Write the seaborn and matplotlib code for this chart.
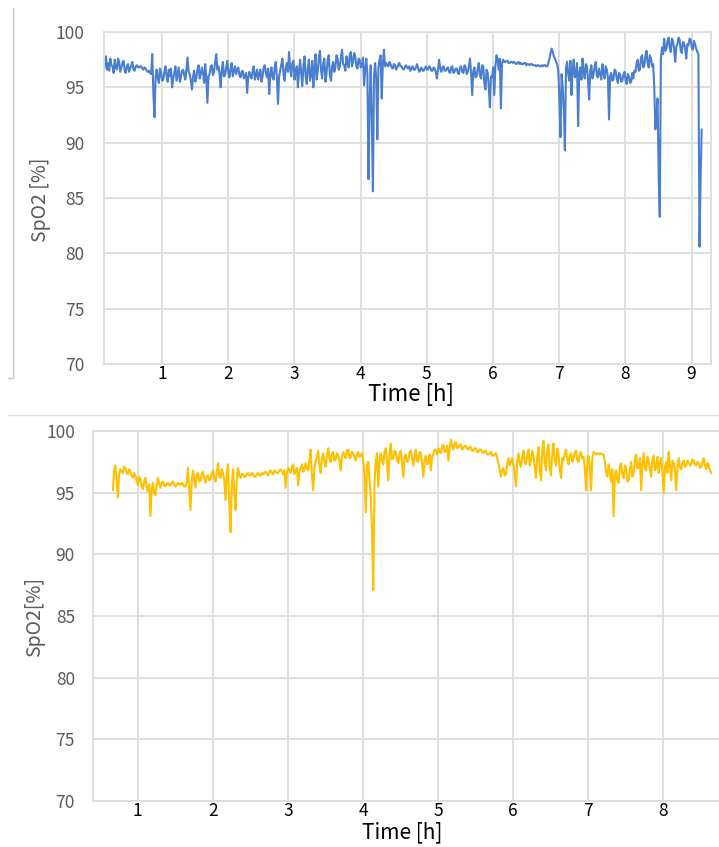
import numpy as np
import pandas as pd
import matplotlib
matplotlib.use("Agg")
import matplotlib.pyplot as plt
import seaborn as sns
from matplotlib.lines import Line2D

# ---- Night 1: SpO2 [%] sampled every minute, first sample at 0.12 h ----
night1_start_h = 0.12
night1_spo2 = [
    96.4, 97.1, 97.8, 96.6, 97.2, 96.5, 97.6, 97.0, 96.9, 96.3, 97.5, 96.8, 96.6, 97.6, 97.3,
    96.4, 96.8, 97.2, 97.4, 96.5, 96.3, 96.9, 97.1, 96.4, 96.7, 97.0, 97.3, 96.6, 96.5, 96.9,
    97.0, 96.8, 96.8, 96.9, 96.9, 96.7, 96.6, 96.8, 96.7, 96.5, 96.4, 96.5, 96.3, 96.2, 98.0,
    94.5, 92.3, 95.9, 96.6, 95.8, 95.4, 96.7, 96.3, 95.6, 95.7, 96.4, 96.9, 96.0, 95.5, 96.6,
    96.0, 96.7, 95.0, 95.8, 96.3, 96.9, 95.6, 96.2, 96.8, 95.5, 95.9, 96.5, 96.6, 96.1, 95.7,
    96.7, 97.7, 96.4, 96.2, 95.6, 94.8, 96.0, 96.5, 95.5, 95.9, 96.6, 97.0, 95.8, 96.2, 96.8,
    96.3, 95.4, 97.1, 95.9, 93.6, 96.0, 96.2, 96.9, 97.0, 96.1, 96.4, 97.3, 98.0, 96.6, 96.9,
    96.2, 95.0, 96.6, 97.3, 96.0, 96.1, 96.8, 97.4, 96.3, 95.9, 96.7, 97.2, 96.0, 96.5, 96.9,
    96.2, 96.6, 96.8, 96.1, 95.9, 96.4, 96.5, 95.8, 96.0, 96.3, 94.5, 95.9, 96.4, 96.0, 95.8,
    96.5, 96.9, 95.7, 96.1, 96.6, 95.7, 96.2, 96.6, 95.5, 96.0, 96.8, 97.0, 96.3, 95.9, 96.7,
    94.4, 96.2, 96.8, 95.9, 95.7, 96.9, 97.3, 95.8, 93.5, 96.0, 96.5, 97.1, 97.6, 96.2, 95.6,
    96.8, 97.2, 96.4, 98.2, 96.7, 96.0, 97.2, 97.4, 95.7, 96.5, 96.9, 95.0, 96.4, 97.5, 96.3,
    95.1, 96.9, 97.8, 96.0, 95.3, 96.8, 97.5, 95.6, 96.2, 97.4, 95.0, 96.6, 98.0, 95.7, 96.4,
    97.7, 98.3, 96.5, 95.8, 97.2, 97.6, 95.5, 96.3, 97.5, 97.9, 96.1, 95.6, 96.9, 97.3, 96.4,
    96.8, 97.9, 97.6, 96.6, 96.9, 97.7, 98.4, 97.1, 97.0, 96.5, 97.8, 97.2, 96.8, 97.9, 98.2,
    96.9, 97.3, 98.1, 97.8, 96.9, 96.7, 97.6, 97.5, 96.8, 97.0, 97.7, 95.2, 96.6, 97.6, 96.2,
    86.7, 93.5, 97.0, 92.0, 85.6, 96.1, 97.2, 95.8, 90.3, 96.8, 97.5, 97.9, 94.0, 97.1, 98.4,
    96.9, 97.2, 97.0, 96.9, 97.3, 97.1, 96.8, 96.7, 97.1, 97.0, 96.6, 96.8, 97.0, 97.2, 96.9,
    96.9, 96.7, 96.6, 96.8, 97.0, 96.8, 96.7, 96.9, 96.5, 96.7, 96.9, 96.6, 96.6, 96.8, 97.1,
    96.7, 96.4, 96.6, 96.8, 96.5, 96.5, 96.7, 96.9, 96.6, 96.6, 96.9, 96.8, 96.5, 96.5, 96.8,
    96.7, 96.4, 95.8, 96.6, 97.5, 96.7, 96.4, 96.8, 96.9, 96.5, 96.5, 96.7, 96.8, 96.4, 96.3,
    96.8, 96.9, 96.3, 96.4, 96.7, 96.7, 96.3, 96.2, 96.8, 96.9, 96.4, 96.3, 97.0, 96.8, 96.2,
    96.4, 96.9, 97.6, 96.3, 94.3, 96.5, 96.8, 95.9, 96.0, 96.7, 97.2, 96.1, 95.8, 97.0, 96.9,
    95.4, 94.8, 96.6, 96.3, 95.1, 93.2, 96.0, 95.9, 96.8, 94.3, 96.9, 97.9, 97.5, 96.6, 97.6,
    93.1, 97.2, 97.5, 97.3, 97.3, 97.4, 97.4, 97.2, 97.2, 97.3, 97.3, 97.2, 97.3, 97.2, 97.1,
    97.2, 97.3, 97.1, 97.2, 97.1, 97.1, 97.2, 97.2, 97.0, 97.1, 97.1, 97.0, 97.1, 97.1, 97.0,
    97.0, 97.0, 96.9, 97.0, 97.0, 96.9, 96.9, 97.0, 96.9, 97.0, 97.0, 96.9, 96.9, 97.2, 97.6,
    98.1, 98.5, 98.2, 97.8, 97.6, 97.3, 97.1, 96.5, 94.0, 90.5, 96.2, 95.0, 93.0, 89.3, 96.8,
    97.3, 96.2, 95.6, 97.4, 94.3, 96.6, 97.5, 95.9, 96.1, 97.2, 91.5, 96.3, 96.8, 95.7, 97.6,
    96.4, 95.8, 97.1, 96.9, 95.6, 93.9, 96.5, 97.0, 95.8, 96.2, 96.9, 97.3, 96.0, 95.9, 96.7,
    96.2, 95.7, 97.1, 96.3, 95.8, 96.9, 96.6, 95.9, 92.1, 96.0, 96.3, 95.6, 95.7, 96.6, 96.5,
    95.8, 95.4, 96.3, 96.2, 95.5, 95.6, 96.1, 96.4, 95.7, 95.3, 96.2, 96.0, 95.4, 95.5, 96.3,
    95.8, 96.5, 96.4, 97.2, 97.5, 96.5, 96.6, 97.7, 97.9, 96.8, 97.0, 97.8, 98.3, 97.2, 96.8,
    97.9, 97.6, 96.9, 97.1, 95.0, 91.2, 92.5, 94.0, 87.0, 83.3, 97.5, 98.6, 98.0, 99.4, 98.3,
    98.5, 99.2, 99.5, 98.6, 98.2, 99.4, 99.2, 98.4, 97.3, 98.7, 98.9, 99.5, 99.3, 98.3, 98.1,
    99.1, 99.0, 98.5, 97.6, 98.9, 98.8, 99.4, 99.3, 98.6, 98.4, 99.2, 98.9, 98.5, 98.2, 98.0,
    80.6, 86.8, 91.2,
]

# ---- Night 2: SpO2 [%] sampled every minute, first sample at 0.67 h ----
night2_start_h = 0.67
night2_spo2 = [
    95.2, 96.8, 97.2, 96.0, 94.6, 96.5, 96.9, 96.7, 96.6, 97.1, 97.0, 96.6, 96.5, 96.9, 96.7,
    96.4, 96.2, 96.6, 96.4, 96.0, 95.6, 96.3, 96.1, 95.5, 95.3, 95.9, 96.2, 95.4, 95.1, 95.7,
    93.1, 95.2, 95.8, 95.0, 94.8, 95.6, 96.2, 95.7, 95.4, 95.8, 95.9, 95.6, 95.5, 95.7, 95.8,
    95.6, 95.6, 95.8, 95.9, 95.7, 95.5, 95.6, 95.8, 95.7, 95.6, 95.8, 95.7, 95.5, 95.5, 95.8,
    97.0, 95.2, 93.6, 95.9, 96.8, 96.1, 95.4, 96.4, 96.6, 95.9, 96.0, 96.5, 96.7, 96.2, 95.8,
    96.3, 96.4, 96.0, 96.1, 96.6, 96.8, 96.2, 95.9, 96.6, 97.4, 96.3, 96.2, 96.9, 96.6, 96.0,
    94.4, 96.5, 97.3, 94.0, 91.8, 95.5, 96.9, 95.0, 93.6, 96.2, 97.0, 96.4, 96.2, 96.5, 96.5,
    96.3, 96.3, 96.5, 96.6, 96.4, 96.4, 96.6, 96.5, 96.3, 96.3, 96.5, 96.6, 96.4, 96.4, 96.6,
    96.5, 96.6, 96.7, 96.5, 96.4, 96.7, 96.8, 96.6, 96.5, 96.8, 96.7, 96.6, 96.6, 96.8, 96.9,
    96.7, 96.5, 96.8, 95.4, 96.6, 97.0, 96.8, 96.6, 97.1, 97.3, 96.5, 96.7, 97.0, 95.6, 96.8,
    97.0, 97.3, 96.7, 96.9, 97.4, 97.0, 96.8, 97.6, 98.5, 96.4, 95.2, 97.0, 97.6, 97.9, 98.4,
    97.2, 96.6, 97.8, 98.2, 97.5, 97.1, 98.0, 98.6, 97.8, 97.5, 98.1, 98.3, 97.6, 97.7, 98.2,
    98.0, 97.6, 96.8, 97.9, 98.3, 98.0, 97.8, 98.4, 98.5, 97.8, 97.9, 98.3, 98.2, 97.9, 97.6,
    98.1, 98.3, 97.9, 98.0, 98.2, 97.6, 96.5, 93.4, 97.2, 97.5, 96.0, 94.6, 92.0, 87.1, 95.8,
    97.6, 98.2, 95.5, 97.4, 98.2, 97.7, 97.3, 98.3, 98.6, 97.5, 96.0, 98.1, 99.0, 97.7, 97.8,
    98.4, 98.3, 97.6, 97.4, 98.2, 98.4, 97.3, 96.3, 97.9, 98.1, 97.5, 97.6, 98.3, 98.4, 97.8,
    97.2, 97.9, 98.5, 97.6, 97.5, 98.3, 98.2, 97.4, 96.3, 97.7, 98.0, 97.3, 97.4, 98.1, 96.8,
    97.9, 98.1, 98.5, 98.4, 98.1, 98.6, 98.3, 98.2, 98.7, 98.9, 98.3, 98.4, 98.8, 97.6, 98.6,
    99.3, 98.8, 98.5, 99.0, 99.1, 98.6, 98.7, 98.9, 98.9, 98.5, 98.6, 98.8, 98.8, 98.6, 98.5,
    98.7, 98.7, 98.4, 98.4, 98.6, 98.6, 98.3, 98.3, 98.5, 98.5, 98.3, 98.2, 98.4, 98.4, 98.1,
    98.1, 98.2, 98.3, 98.0, 98.0, 98.1, 98.2, 97.8, 97.4, 96.8, 96.3, 96.9, 97.0, 96.4, 96.5,
    97.3, 97.8, 97.2, 97.5, 97.8, 97.2, 96.6, 95.5, 97.5, 98.2, 97.4, 97.1, 97.9, 98.4, 97.5,
    97.3, 98.0, 98.5, 97.2, 97.6, 98.4, 98.0, 97.1, 96.2, 97.9, 98.7, 96.8, 96.0, 98.3, 99.2,
    97.4, 96.8, 98.5, 98.9, 97.0, 96.4, 98.2, 99.0, 97.6, 97.2, 98.6, 98.1, 96.9, 96.2, 97.8,
    97.6, 98.2, 98.5, 97.7, 97.3, 98.0, 98.2, 97.5, 97.8, 98.3, 98.4, 97.6, 97.5, 98.1, 98.3,
    97.8, 97.9, 97.0, 95.2, 97.6, 98.0, 97.1, 95.2, 97.8, 98.3, 98.2, 98.1, 98.2, 98.2, 98.1,
    98.2, 98.1, 98.1, 97.5, 96.7, 96.3, 97.3, 96.6, 95.9, 96.9, 93.1, 96.4, 96.8, 96.0, 95.8,
    97.1, 97.4, 96.5, 96.2, 97.2, 97.0, 95.9, 96.0, 96.8, 97.5, 96.3, 96.5, 97.6, 98.1, 97.0,
    97.0, 97.8, 95.2, 97.3, 98.2, 97.0, 96.8, 97.9, 97.6, 96.9, 96.3, 97.7, 98.0, 96.8, 97.1,
    97.9, 96.6, 97.3, 97.8, 96.7, 95.0, 97.1, 97.5, 96.6, 98.3, 97.2, 96.0, 97.6, 97.4, 96.9,
    95.2, 97.1, 97.8, 97.0, 96.9, 97.4, 97.6, 97.1, 97.2, 97.6, 97.5, 97.2, 97.3, 97.7, 97.6,
    97.3, 97.2, 97.5, 97.4, 97.0, 97.1, 97.5, 97.8, 97.2, 96.9, 97.4, 97.2, 96.8, 96.6,
]

sample_interval_h = 1 / 60
night1_hour_ticks = [1, 2, 3, 4, 5, 6, 7, 8, 9]
night2_hour_ticks = [1, 2, 3, 4, 5, 6, 7, 8]
spo2_ticks = [70, 75, 80, 85, 90, 95, 100]


def to_frame(start_h, values):
    hours = start_h + np.arange(len(values)) * sample_interval_h
    return pd.DataFrame({"Time": hours, "SpO2": values})


sns.set_theme(style="white")
plt.rcParams["font.family"] = ["Noto Sans CJK JP", "DejaVu Sans"]

GRID = "#DCDCDC"
TICK_GRAY = "#595959"

fig = plt.figure(figsize=(7.19, 8.47), dpi=100)
ax1 = fig.add_axes([0.1446, 0.5702, 0.8442, 0.3920])
ax2 = fig.add_axes([0.1293, 0.0543, 0.8707, 0.4368])

panels = [
    (ax1, to_frame(night1_start_h, night1_spo2), "#4A7ECF", (0.124, 9.293),
     night1_hour_ticks, "SpO2 [%]"),
    (ax2, to_frame(night2_start_h, night2_spo2), "#FFC000", (0.405, 8.74),
     night2_hour_ticks, "SpO2[%]"),
]

for ax, df, colour, xlim, xticks, ylab in panels:
    sns.lineplot(data=df, x="Time", y="SpO2", ax=ax, color=colour,
                 linewidth=1.5, estimator=None)
    ax.set_xlim(*xlim)
    ax.set_ylim(70, 100)
    ax.set_xticks(xticks)
    ax.set_yticks(spo2_ticks)
    ax.grid(True, color=GRID, linewidth=1.3)
    ax.set_axisbelow(True)
    for side in ("left", "bottom", "top", "right"):
        ax.spines[side].set_color(GRID)
        ax.spines[side].set_linewidth(1.3)
    ax.tick_params(axis="both", length=0)
    ax.tick_params(axis="x", labelsize=12.5, labelcolor="black", pad=1)
    ax.tick_params(axis="y", labelsize=12.5, labelcolor=TICK_GRAY, pad=14)
    ax.set_ylabel(ylab, fontsize=14, color=TICK_GRAY)

ax1.set_xlabel("Time [h]", fontsize=16, color="black")
ax2.set_xlabel("Time [h]", fontsize=15, color="black")
ax1.xaxis.set_label_coords(0.506, -0.058)
ax1.yaxis.set_label_coords(-0.088, 0.494)
ax2.xaxis.set_label_coords(0.494, -0.054)
ax2.yaxis.set_label_coords(-0.076, 0.498)
ax2.tick_params(axis="y", pad=13)
ax2.spines["right"].set_visible(False)

# frame lines around the upper chart and the divider between the two charts
W, H = 719, 847
fig.add_artist(Line2D([13 / W, 13 / W], [1 - 8 / H, 1 - 378 / H],
                      color="#C8C8C8", linewidth=1.0))
fig.add_artist(Line2D([8 / W, 13 / W], [1 - 378 / H, 1 - 378 / H],
                      color="#C8C8C8", linewidth=1.0))
fig.add_artist(Line2D([8 / W, 1.0], [1 - 415 / H, 1 - 415 / H],
                      color="#E2E2E2", linewidth=1.0))

fig.savefig("out.png", dpi=100)
